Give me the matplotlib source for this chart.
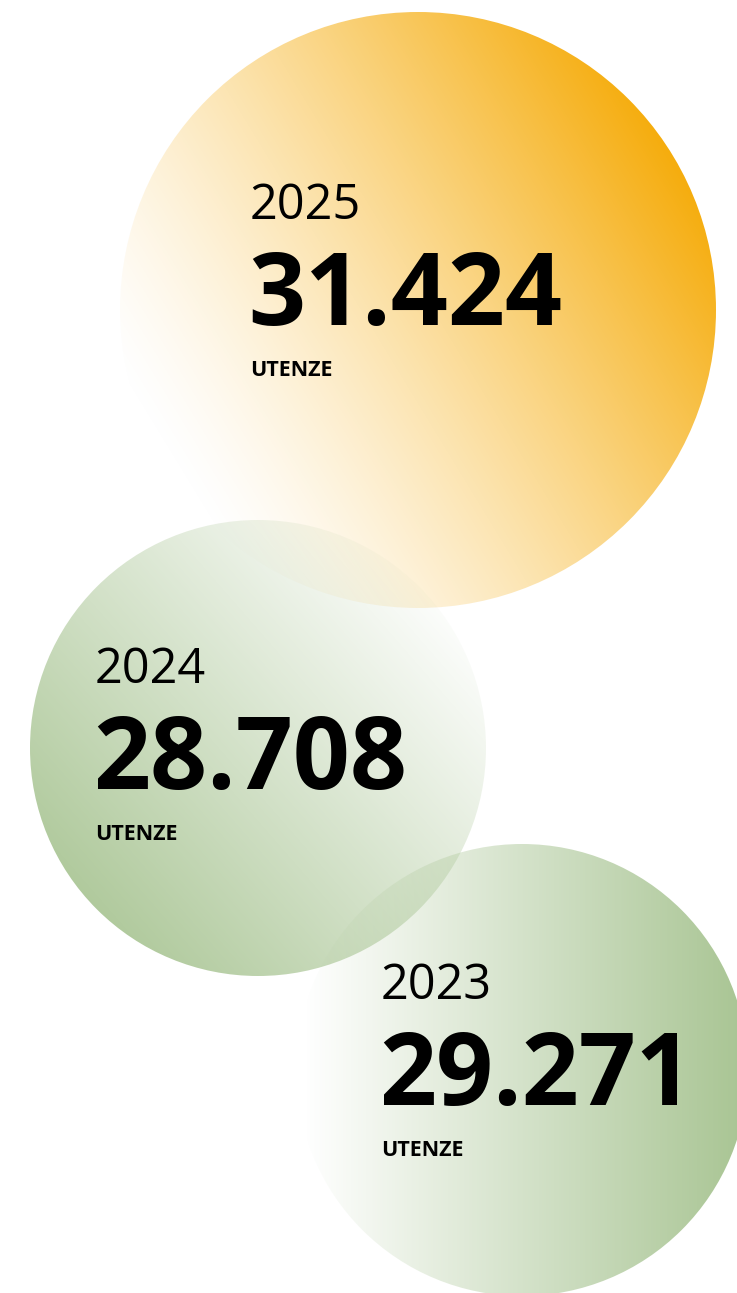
import numpy as np
import matplotlib
matplotlib.use("Agg")
import matplotlib.pyplot as plt
from matplotlib.patches import Circle

# data
years = ["2025", "2024", "2023"]
utenze = [31424, 28708, 29271]
label = "UTENZE"

# layout (pixels, y down)
W, H = 737, 1293
centers = [(418, 310), (258, 748), (522, 1070)]
radii = [298, 228, 226]
colors = [(245, 168, 0), (169, 197, 148), (169, 197, 148)]
# gradient: from transparent point to full colour point
grad_from = [(190, 500), (450, 590), (305, 1070)]
grad_to = [(715, 180), (60, 930), (740, 1070)]
grad_pow = [1.3, 1.0, 1.0]
text_x = [250, 95, 381]
text_y = [206, 670, 986]

fig = plt.figure(figsize=(W / 100, H / 100), dpi=100)
ax = fig.add_axes([0, 0, 1, 1])
ax.set_xlim(0, W)
ax.set_ylim(H, 0)
ax.axis("off")

yy, xx = np.mgrid[0:H, 0:W] + 0.5


def fmt(v):
    return f"{v:,}".replace(",", ".")


for i in range(len(years)):
    p0 = np.array(grad_from[i], float)
    p1 = np.array(grad_to[i], float)
    d = p1 - p0
    t = ((xx - p0[0]) * d[0] + (yy - p0[1]) * d[1]) / (d @ d)
    t = np.clip(t, 0, 1) ** grad_pow[i]
    img = np.zeros((H, W, 4))
    img[..., :3] = np.array(colors[i]) / 255
    img[..., 3] = t
    im = ax.imshow(img, extent=(0, W, H, 0), origin="upper", zorder=i + 1,
                   interpolation="bilinear")
    clip = Circle(centers[i], radii[i], transform=ax.transData)
    im.set_clip_path(clip)

for i in range(len(years)):
    ax.text(text_x[i], text_y[i], years[i], fontsize=35, family="Open Sans",
            va="center", ha="left", color="black", zorder=10)
    ax.text(text_x[i] - 2, text_y[i] + 92, fmt(utenze[i]), fontsize=72,
            family="Open Sans", weight="bold", va="center", ha="left",
            color="black", zorder=10)
    ax.text(text_x[i], text_y[i] + 164, label, fontsize=15.5, family="Open Sans",
            weight="bold", va="center", ha="left", color="black", zorder=10)

fig.savefig("out.png", dpi=100)
